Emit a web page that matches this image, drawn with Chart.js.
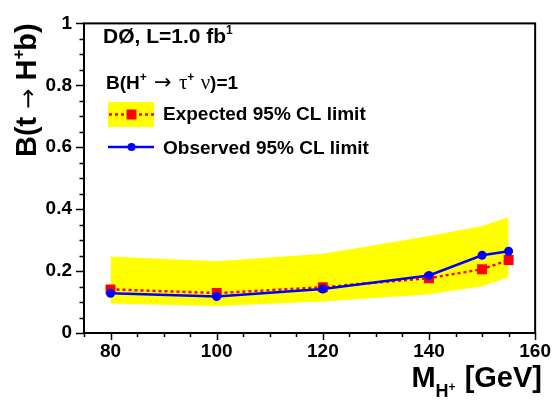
<!DOCTYPE html>
<html>
<head>
<meta charset="utf-8">
<script src="https://cdn.jsdelivr.net/npm/chart.js@4.4.0/dist/chart.umd.min.js"></script>
<style>
  html, body { margin: 0; padding: 0; background: #fff; }
  #wrap { width: 558px; height: 400px; position: relative; }
</style>
</head>
<body>
<div id="wrap"><canvas id="c" width="558" height="400"></canvas></div>
<script>
// ---- data ----
const masses    = [80, 100, 120, 140, 150, 155];
const observed  = [0.128, 0.118, 0.142, 0.186, 0.251, 0.264];
const expected  = [0.141, 0.129, 0.148, 0.177, 0.206, 0.236];
const bandUpper = [0.247, 0.232, 0.256, 0.313, 0.346, 0.375];
const bandLower = [0.095, 0.087, 0.102, 0.125, 0.151, 0.180];
const xTicks = [80, 100, 120, 140, 160];
const yTicks = [0, 0.2, 0.4, 0.6, 0.8, 1];
const xMinor = [75, 80, 85, 90, 95, 100, 105, 110, 115, 120, 125, 130, 135, 140, 145, 150, 155, 160];
const yMinor = [0, 0.05, 0.1, 0.15, 0.2, 0.25, 0.3, 0.35, 0.4, 0.45, 0.5, 0.55, 0.6, 0.65, 0.7, 0.75, 0.8, 0.85, 0.9, 0.95, 1];

const pts = arr => masses.map((m, i) => ({ x: m, y: arr[i] }));
const FAM = "'Liberation Sans', Arial, Helvetica, sans-serif";
const B = s => "bold " + s + "px " + FAM;
const N = s => s + "px 'DejaVu Sans', " + FAM;
const G = s => s + "px 'Liberation Serif', 'DejaVu Serif', serif";

function rich(ctx, x, y, segs, measureOnly) {
  let cx = x;
  for (const s of segs) {
    ctx.font = s.f;
    if (!measureOnly) ctx.fillText(s.t, cx, y + (s.dy || 0));
    cx += ctx.measureText(s.t).width + (s.dx || 0);
  }
  return cx - x;
}

const decor = {
  id: 'decor',
  beforeDraw(chart) {
    const ctx = chart.ctx;
    ctx.save();
    ctx.fillStyle = '#fff';
    ctx.fillRect(0, 0, chart.width, chart.height);
    ctx.restore();
  },
  afterDraw(chart) {
    const ctx = chart.ctx;
    const a = chart.chartArea;
    const xs = chart.scales.x, ys = chart.scales.y;
    ctx.save();
    ctx.strokeStyle = '#000';
    // ticks
    ctx.lineWidth = 1.5;
    ctx.beginPath();
    for (const v of yMinor) {
      const py = Math.round(ys.getPixelForValue(v)) + 0.5;
      const major = Math.abs(v * 5 - Math.round(v * 5)) < 1e-6;
      const len = major ? 8 : 4.5;
      ctx.moveTo(a.left, py); ctx.lineTo(a.left - len, py);
    }
    for (const v of xMinor) {
      const px = Math.round(xs.getPixelForValue(v)) + 0.5;
      const major = v % 20 === 0;
      const len = major ? 7 : 4;
      ctx.moveTo(px, a.bottom); ctx.lineTo(px, a.bottom + len);
    }
    ctx.stroke();
    // frame
    ctx.lineWidth = 2;
    ctx.strokeRect(a.left, a.top, a.right - a.left, a.bottom - a.top);

    ctx.fillStyle = '#000';
    ctx.textBaseline = 'alphabetic';
    ctx.textAlign = 'left';

    // x title
    const xt = [
      { t: 'M', f: B(29) },
      { t: 'H', f: B(18), dy: 10 },
      { t: '+', f: B(12), dy: 4, dx: 1 },
      { t: ' [GeV]', f: B(29) }
    ];
    const w = rich(ctx, 0, 0, xt, true);
    rich(ctx, 542 - w, 387, xt);

    // y title (rotated)
    ctx.save();
    ctx.translate(36, 157);
    ctx.rotate(-Math.PI / 2);
    rich(ctx, 0, 0, [
      { t: 'B(t ', f: B(29) },
      { t: '\u2192', f: N(24) },
      { t: ' H', f: B(29) },
      { t: '+', f: B(17), dy: -12, dx: -1 },
      { t: 'b)', f: B(29) }
    ]);
    ctx.restore();

    // annotation lines
    rich(ctx, 103, 43, [
      { t: 'D\u00D8, L=1.0 fb', f: B(21) },
      { t: '1', f: B(12), dy: -9 }
    ]);
    rich(ctx, 106, 89, [
      { t: 'B(H', f: B(19) },
      { t: '+', f: B(12), dy: -8 },
      { t: ' ', f: B(19), dx: 2 },
      { t: '\u2192', f: N(21) },
      { t: ' ', f: B(19), dx: 2 },
      { t: '\u03C4', f: G(21) },
      { t: '+', f: B(12), dy: -8, dx: 1 },
      { t: ' \u03BD', f: G(21) },
      { t: ')=1', f: B(19) }
    ]);

    // legend
    ctx.fillStyle = '#ffff00';
    ctx.fillRect(108, 102, 46, 25);
    ctx.strokeStyle = '#ff0000';
    ctx.lineWidth = 2.5;
    ctx.setLineDash([3, 3]);
    ctx.beginPath(); ctx.moveTo(109, 114.5); ctx.lineTo(154, 114.5); ctx.stroke();
    ctx.setLineDash([]);
    ctx.fillStyle = '#ff0000';
    ctx.fillRect(126.5, 109.5, 10, 10);
    ctx.strokeStyle = '#0000ff';
    ctx.lineWidth = 2.5;
    ctx.beginPath(); ctx.moveTo(108, 147); ctx.lineTo(154, 147); ctx.stroke();
    ctx.fillStyle = '#0000ff';
    ctx.beginPath(); ctx.arc(131.5, 147, 4, 0, Math.PI * 2); ctx.fill();

    ctx.fillStyle = '#000';
    ctx.font = B(19);
    ctx.fillText('Expected 95% CL limit', 163, 120);
    ctx.fillText('Observed 95% CL limit', 163, 154);
    ctx.restore();
  }
};

new Chart(document.getElementById('c'), {
  type: 'scatter',
  data: {
    datasets: [
      {
        label: 'Observed 95% CL limit',
        data: pts(observed),
        showLine: true,
        borderColor: '#0000ff',
        backgroundColor: '#0000ff',
        borderWidth: 2.5,
        pointRadius: 4.5,
        pointBorderWidth: 0,
        pointBackgroundColor: '#0000ff',
        order: 1
      },
      {
        label: 'Expected 95% CL limit',
        data: pts(expected),
        showLine: true,
        borderColor: '#ff0000',
        borderDash: [3, 3],
        borderWidth: 2.5,
        pointStyle: 'rect',
        pointRadius: 7,
        pointBorderWidth: 0,
        pointBackgroundColor: '#ff0000',
        order: 2
      },
      {
        label: 'band upper',
        data: pts(bandUpper),
        showLine: true,
        borderWidth: 0,
        borderColor: 'rgba(0,0,0,0)',
        pointRadius: 0,
        backgroundColor: '#ffff00',
        fill: '+1',
        order: 3
      },
      {
        label: 'band lower',
        data: pts(bandLower),
        showLine: true,
        borderWidth: 0,
        borderColor: 'rgba(0,0,0,0)',
        pointRadius: 0,
        fill: false,
        order: 4
      }
    ]
  },
  options: {
    responsive: false,
    animation: false,
    devicePixelRatio: 1,
    layout: { padding: { left: 0, top: 11, right: 15, bottom: 0 } },
    plugins: { legend: { display: false }, tooltip: { enabled: false } },
    scales: {
      x: {
        type: 'linear',
        min: 75, max: 160,
        afterBuildTicks: s => { s.ticks = xTicks.map(v => ({ value: v })); },
        afterFit: s => { s.height = 67; },
        grid: { display: false, drawTicks: false },
        border: { display: false },
        ticks: {
          font: { family: FAM, size: 19, weight: 'bold' },
          color: '#000',
          padding: 7,
          maxRotation: 0,
          autoSkip: false
        }
      },
      y: {
        type: 'linear',
        min: 0, max: 1,
        afterBuildTicks: s => { s.ticks = yTicks.map(v => ({ value: v })); },
        afterFit: s => { s.width = 84; },
        grid: { display: false, drawTicks: false },
        border: { display: false },
        ticks: {
          font: { family: FAM, size: 19, weight: 'bold' },
          color: '#000',
          padding: 12,
          autoSkip: false,
          callback: v => String(v)
        }
      }
    }
  },
  plugins: [decor]
});
</script>
</body>
</html>
